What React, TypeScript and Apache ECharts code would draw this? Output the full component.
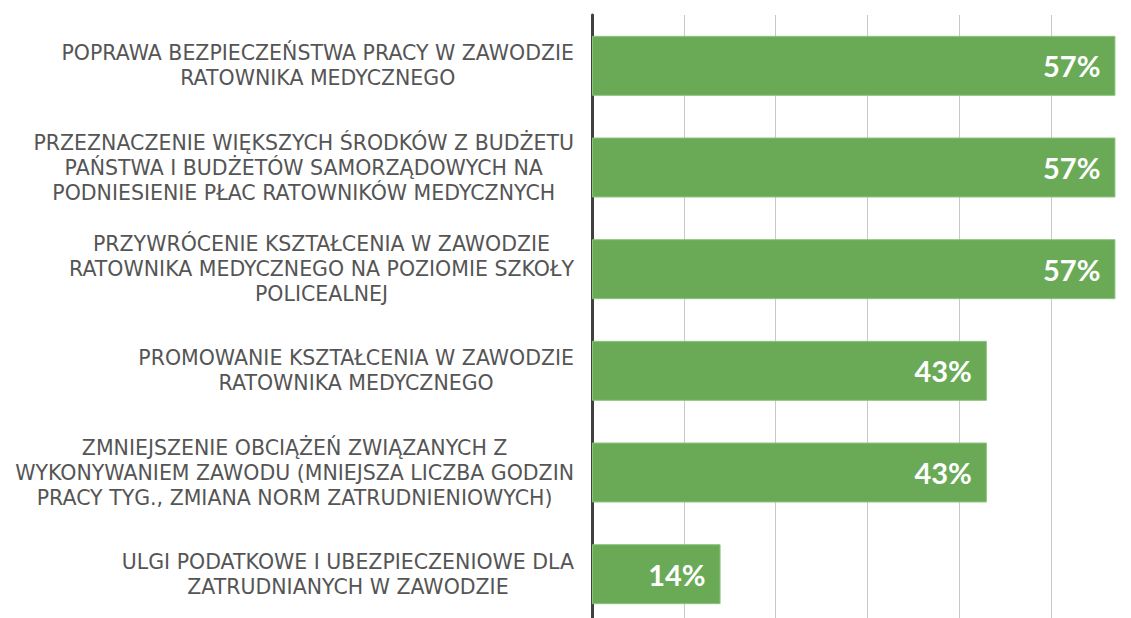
import React, { useEffect, useRef } from "react";
import * as echarts from "echarts";

const categories: string[] = [
  "POPRAWA BEZPIECZEŃSTWA PRACY W ZAWODZIE\nRATOWNIKA MEDYCZNEGO",
  "PRZEZNACZENIE WIĘKSZYCH ŚRODKÓW Z BUDŻETU\nPAŃSTWA I BUDŻETÓW SAMORZĄDOWYCH NA\nPODNIESIENIE PŁAC RATOWNIKÓW MEDYCZNYCH",
  "PRZYWRÓCENIE KSZTAŁCENIA W ZAWODZIE\nRATOWNIKA MEDYCZNEGO NA POZIOMIE SZKOŁY\nPOLICEALNEJ",
  "PROMOWANIE KSZTAŁCENIA W ZAWODZIE\nRATOWNIKA MEDYCZNEGO",
  "ZMNIEJSZENIE OBCIĄŻEŃ ZWIĄZANYCH Z\nWYKONYWANIEM ZAWODU (MNIEJSZA LICZBA GODZIN\nPRACY TYG., ZMIANA NORM ZATRUDNIENIOWYCH)",
  "ULGI PODATKOWE I UBEZPIECZENIOWE DLA\nZATRUDNIANYCH W ZAWODZIE",
];

const values: number[] = [57, 57, 57, 43, 43, 14];

const axisMin = 0;
const axisMax = 60;
const axisInterval = 10;

export default function App() {
  const ref = useRef<HTMLDivElement>(null);

  useEffect(() => {
    if (!ref.current) return;
    const chart = echarts.init(ref.current, undefined, { renderer: "svg" });
    chart.setOption({
      animation: false,
      backgroundColor: "#ffffff",
      grid: {
        left: 592,
        top: 15,
        width: 551,
        height: 610,
        containLabel: false,
        outerBoundsMode: "none",
      },
      xAxis: {
        type: "value",
        min: axisMin,
        max: axisMax,
        interval: axisInterval,
        axisLabel: { show: false },
        axisLine: { show: false },
        axisTick: { show: false },
        splitLine: { show: true, lineStyle: { color: "#c8c8c8", width: 1 } },
      },
      yAxis: {
        type: "category",
        inverse: true,
        data: categories,
        axisTick: { show: false },
        axisLine: { show: true, lineStyle: { color: "#404040", width: 3 } },
        axisLabel: {
          margin: 18,
          align: "right",
          formatter: (v: string) =>
            v
              .split("\n")
              .map((l) => `{c|${l}}`)
              .join("\n"),
          rich: {
            c: {
              align: "center",
              fontFamily: "DejaVu Sans",
              fontSize: 20.5,
              lineHeight: 25,
              color: "#555555",
            },
          },
        },
      },
      series: [
        {
          type: "bar",
          data: values,
          barCategoryGap: "41%",
          itemStyle: { color: "#6aaa57", borderColor: "#8cc47c", borderWidth: 1 },
          label: {
            show: true,
            position: "insideRight",
            distance: 15,
            formatter: (p: any) => `${p.value}%`,
            color: "#ffffff",
            fontFamily: "Lato",
            fontWeight: "bold",
            fontSize: 29,
          },
        },
      ],
    });
    return () => chart.dispose();
  }, []);

  return (
    <div
      ref={ref}
      style={{ position: "fixed", left: 0, top: 0, width: 1131, height: 618 }}
    />
  );
}
